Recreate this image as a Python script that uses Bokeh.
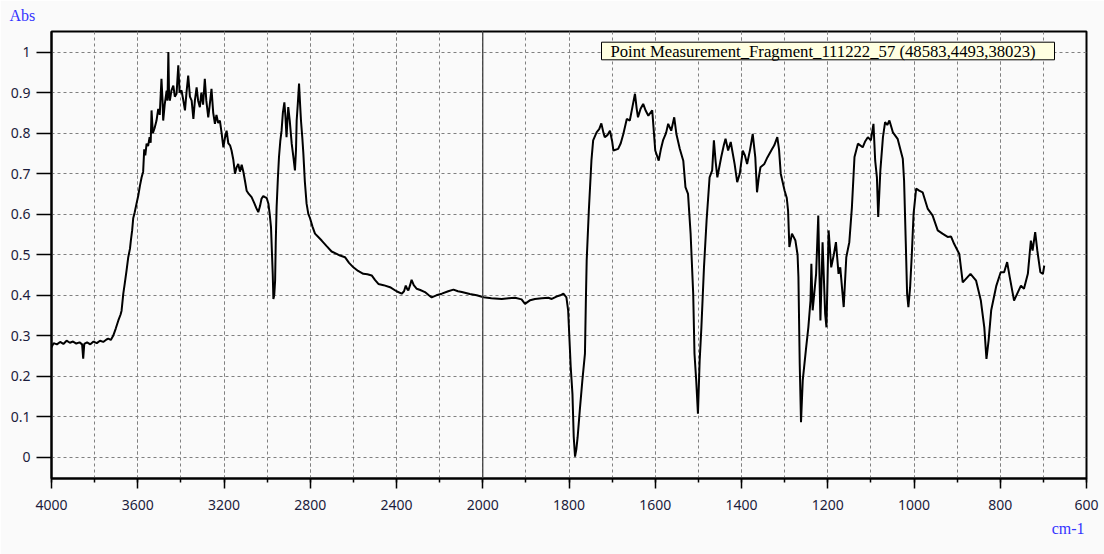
import numpy as np
from bokeh.plotting import figure
from bokeh.models import (Range1d, SingleIntervalTicker, FixedTicker, CustomJSTickFormatter,
                          Span, Label, BoxAnnotation, Title)
from bokeh.embed import file_html
from bokeh.resources import INLINE

# ---------------- data ----------------
wavenumber = [
    4000, 3990, 3975, 3960, 3945, 3930, 3915, 3900, 3885, 3870, 3858, 3853, 3848, 3835, 3820, 3805,
    3790, 3775, 3760, 3745, 3737, 3725, 3714, 3702, 3690, 3680, 3675, 3667, 3660, 3652, 3644, 3636,
    3632, 3626, 3621, 3614, 3605, 3598, 3590, 3582, 3575, 3570, 3565, 3559, 3552, 3545, 3540, 3536,
    3530, 3522, 3513, 3505, 3498, 3490, 3485, 3482, 3475, 3466, 3462, 3458, 3455, 3451, 3444, 3435,
    3428, 3420, 3412, 3406, 3397, 3390, 3381, 3374, 3366, 3358, 3350, 3342, 3335, 3327, 3320, 3312,
    3305, 3297, 3289, 3282, 3273, 3266, 3258, 3250, 3242, 3235, 3227, 3219, 3211, 3203, 3195, 3188,
    3180, 3172, 3165, 3157, 3149, 3142, 3134, 3126, 3118, 3110, 3102, 3095, 3085, 3072, 3060, 3050,
    3041, 3033, 3026, 3018, 3010, 3002, 2994, 2988, 2982, 2978, 2974, 2971, 2967, 2963, 2960, 2956,
    2950, 2945, 2939, 2933, 2927, 2920, 2915, 2910, 2906, 2902, 2895, 2886, 2878, 2871, 2866, 2863,
    2858, 2852, 2847, 2843, 2837, 2832, 2825, 2817, 2809, 2801, 2790, 2778, 2765, 2747, 2725, 2701,
    2680, 2662, 2639, 2620, 2600, 2578, 2554, 2535, 2515, 2500, 2484, 2460, 2430, 2400, 2376, 2365,
    2357, 2350, 2345, 2337, 2330, 2320, 2306, 2290, 2268, 2250, 2237, 2215, 2190, 2160, 2136, 2115,
    2097, 2060, 2028, 1998, 1980, 1956, 1940, 1925, 1910, 1902, 1890, 1879, 1863, 1848, 1840, 1829,
    1820, 1813, 1806, 1802, 1796, 1792, 1789, 1786, 1783, 1780, 1775, 1769, 1763, 1761, 1759, 1754,
    1748, 1744, 1736, 1730, 1725, 1720, 1717, 1711, 1705, 1700, 1697, 1686, 1680, 1674, 1666, 1659,
    1653, 1647, 1643, 1640, 1634, 1628, 1622, 1616, 1607, 1600, 1592, 1587, 1582, 1575, 1570, 1563,
    1556, 1551, 1543, 1535, 1530, 1524, 1518, 1512, 1509, 1505, 1501, 1497, 1493, 1487, 1481, 1474,
    1468, 1464, 1460, 1456, 1447, 1441, 1437, 1431, 1425, 1416, 1410, 1404, 1397, 1392, 1387, 1380,
    1374, 1368, 1364, 1360, 1356, 1347, 1340, 1331, 1324, 1317, 1313, 1309, 1300, 1295, 1292, 1289,
    1283, 1275, 1270, 1268, 1265, 1262, 1258, 1250, 1245, 1240, 1238, 1235, 1227, 1222, 1217, 1212,
    1206, 1203, 1198, 1192, 1186, 1181, 1175, 1171, 1163, 1157, 1150, 1144, 1138, 1130, 1119, 1113,
    1107, 1100, 1094, 1090, 1086, 1083, 1078, 1072, 1067, 1062, 1057, 1049, 1038, 1026, 1023, 1019,
    1016, 1013, 1009, 1005, 1001, 995, 988, 980, 968, 957, 945, 934, 922, 914, 907, 895,
    887, 869, 856, 845, 837, 832, 827, 821, 809, 799, 791, 784, 778, 768, 759, 752,
    745, 736, 729, 725, 719, 714, 707, 701, 698,
]
absorbance = [
    0.272, 0.282, 0.279, 0.285, 0.280, 0.288, 0.283, 0.286, 0.281, 0.284, 0.279, 0.244, 0.280, 0.284, 0.279, 0.286,
    0.282, 0.288, 0.285, 0.291, 0.293, 0.290, 0.300, 0.318, 0.338, 0.352, 0.362, 0.404, 0.430, 0.461, 0.494, 0.515,
    0.535, 0.560, 0.590, 0.605, 0.628, 0.645, 0.670, 0.691, 0.705, 0.760, 0.745, 0.774, 0.768, 0.790, 0.776, 0.856,
    0.800, 0.812, 0.831, 0.860, 0.845, 0.934, 0.880, 0.831, 0.870, 0.905, 0.880, 1.000, 0.900, 0.880, 0.905, 0.917,
    0.890, 0.897, 0.967, 0.900, 0.905, 0.885, 0.856, 0.900, 0.942, 0.890, 0.880, 0.835, 0.880, 0.913, 0.880, 0.864,
    0.900, 0.870, 0.934, 0.880, 0.839, 0.870, 0.909, 0.850, 0.823, 0.845, 0.825, 0.831, 0.800, 0.765, 0.790, 0.806,
    0.775, 0.770, 0.757, 0.735, 0.700, 0.715, 0.724, 0.705, 0.722, 0.704, 0.680, 0.658, 0.650, 0.642, 0.628, 0.615,
    0.605, 0.620, 0.638, 0.645, 0.642, 0.640, 0.626, 0.600, 0.568, 0.510, 0.453, 0.391, 0.400, 0.436, 0.530, 0.617,
    0.690, 0.741, 0.780, 0.806, 0.850, 0.876, 0.840, 0.790, 0.830, 0.864, 0.830, 0.774, 0.740, 0.708, 0.760, 0.831,
    0.870, 0.922, 0.870, 0.831, 0.790, 0.750, 0.680, 0.626, 0.601, 0.590, 0.570, 0.552, 0.545, 0.535, 0.522, 0.508,
    0.503, 0.498, 0.494, 0.480, 0.469, 0.460, 0.453, 0.452, 0.449, 0.438, 0.428, 0.425, 0.420, 0.410, 0.404, 0.410,
    0.424, 0.415, 0.412, 0.425, 0.438, 0.425, 0.416, 0.413, 0.408, 0.400, 0.395, 0.400, 0.404, 0.410, 0.414, 0.410,
    0.408, 0.403, 0.400, 0.395, 0.393, 0.391, 0.393, 0.394, 0.390, 0.379, 0.388, 0.391, 0.393, 0.394, 0.391, 0.397,
    0.400, 0.404, 0.395, 0.363, 0.223, 0.157, 0.050, 0.002, 0.020, 0.050, 0.116, 0.190, 0.256, 0.380, 0.486, 0.609,
    0.732, 0.782, 0.802, 0.810, 0.824, 0.800, 0.790, 0.795, 0.806, 0.780, 0.757, 0.761, 0.775, 0.798, 0.835, 0.831,
    0.864, 0.897, 0.860, 0.839, 0.860, 0.872, 0.855, 0.843, 0.856, 0.757, 0.732, 0.760, 0.782, 0.800, 0.823, 0.806,
    0.839, 0.798, 0.761, 0.732, 0.667, 0.650, 0.552, 0.404, 0.256, 0.190, 0.108, 0.239, 0.321, 0.469, 0.584, 0.691,
    0.708, 0.782, 0.730, 0.691, 0.741, 0.770, 0.786, 0.757, 0.778, 0.724, 0.679, 0.700, 0.757, 0.745, 0.724, 0.760,
    0.798, 0.740, 0.654, 0.690, 0.716, 0.724, 0.740, 0.757, 0.770, 0.790, 0.760, 0.700, 0.658, 0.640, 0.609, 0.519,
    0.552, 0.535, 0.500, 0.445, 0.231, 0.087, 0.190, 0.272, 0.321, 0.387, 0.478, 0.363, 0.453, 0.597, 0.338, 0.531,
    0.354, 0.321, 0.560, 0.469, 0.500, 0.531, 0.453, 0.469, 0.371, 0.494, 0.531, 0.617, 0.741, 0.774, 0.765, 0.780,
    0.790, 0.782, 0.823, 0.732, 0.691, 0.593, 0.708, 0.790, 0.827, 0.820, 0.831, 0.802, 0.786, 0.737, 0.683, 0.527,
    0.404, 0.371, 0.420, 0.502, 0.601, 0.663, 0.658, 0.654, 0.613, 0.597, 0.560, 0.552, 0.544, 0.545, 0.527, 0.502,
    0.432, 0.453, 0.436, 0.387, 0.321, 0.243, 0.289, 0.363, 0.424, 0.457, 0.457, 0.482, 0.445, 0.387, 0.408, 0.424,
    0.416, 0.453, 0.535, 0.510, 0.556, 0.510, 0.457, 0.453, 0.473,
]
x_tick_labels = [4000, 3600, 3200, 2800, 2400, 2000, 1800, 1600, 1400, 1200, 1000, 800, 600]
y_ticks = [0.0, 0.1, 0.2, 0.3, 0.4, 0.5, 0.6, 0.7, 0.8, 0.9, 1.0]
legend_text = "Point Measurement_Fragment_111222_57 (48583,4493,38023)"
x_unit = "cm-1"
y_unit = "Abs"
x_break = 2000  # below this wavenumber the axis is expanded 2x


def to_u(wn):
    """Map wavenumber onto the instrument's axis (2x expansion below 2000 cm-1)."""
    wn = np.asarray(wn, dtype=float)
    return np.where(wn >= x_break, 4000 - wn, x_break + 2 * (x_break - wn))


# ---------------- layout ----------------
W, H = 1104, 554
FL, FR, FT, FB = 51, 1086, 31, 478          # frame edges in figure pixels
Y0, Y1 = -0.0518, 1.0506
U0, U1 = float(to_u(max(x_tick_labels))), float(to_u(min(x_tick_labels)))


def px_u(fx):
    return U0 + (fx - FL) / (FR - FL) * (U1 - U0)


def py_y(fy):
    return Y1 - (fy - FT) / (FB - FT) * (Y1 - Y0)


BG = "#fafafa"
BLUE = "#3333ff"
p = figure(width=W, height=H, x_range=Range1d(U0, U1), y_range=Range1d(Y0, Y1),
           output_backend="svg", toolbar_location=None,
           min_border_left=FL, min_border_right=W - FR, min_border_top=FT, min_border_bottom=H - FB)
p.background_fill_color = BG
p.border_fill_color = BG
p.outline_line_color = "black"
p.outline_line_width = 2
p.outline_line_alpha = 1

# x axis
p.xaxis.ticker = SingleIntervalTicker(interval=400, num_minor_ticks=2)
p.xaxis.formatter = CustomJSTickFormatter(code="""
    const w = tick <= 2000 ? 4000 - tick : 2000 - (tick - 2000) / 2;
    return Math.round(w).toString();
""")
p.xaxis.major_tick_out = 10
p.xaxis.major_tick_in = 0
p.xaxis.minor_tick_out = 4
p.xaxis.minor_tick_in = 0
p.xaxis.major_tick_line_width = 1.5
p.xaxis.minor_tick_line_width = 1.5
p.xaxis.axis_line_width = 2
p.xaxis.major_label_standoff = 11

# y axis
p.yaxis.ticker = FixedTicker(ticks=y_ticks)
p.yaxis.formatter = CustomJSTickFormatter(code="""
    return tick.toFixed(1).replace(/\\.0$/, '');
""")
p.yaxis.major_tick_out = 15
p.yaxis.major_tick_in = 0
p.yaxis.minor_tick_line_color = None
p.yaxis.major_tick_line_width = 1.5
p.yaxis.axis_line_width = 2
p.yaxis.major_label_standoff = 6

for ax in (p.xaxis, p.yaxis):
    ax.axis_line_color = "black"
    ax.major_tick_line_color = "black"
    ax.major_label_text_font = "Noto Sans"
    ax.major_label_text_font_size = "14px"
    ax.major_label_text_color = "#1c1c3c"
p.xaxis.minor_tick_line_color = "black"

# grid
p.xgrid.grid_line_color = "#808080"
p.xgrid.grid_line_dash = "3 3"
p.xgrid.minor_grid_line_color = "#808080"
p.xgrid.minor_grid_line_dash = "3 3"
p.ygrid.grid_line_color = "#808080"
p.ygrid.grid_line_dash = "3 3"

# break marker at 2000 cm-1
p.add_layout(Span(location=float(to_u(x_break)), dimension="height",
                  line_color="#404040", line_width=1.3))

# spectrum
p.line(to_u(wavenumber), absorbance, line_color="black", line_width=2)

# legend box
p.add_layout(BoxAnnotation(left=px_u(601), right=px_u(1054), top=py_y(41.7), bottom=py_y(59.3),
                           fill_color="#ffffe1", fill_alpha=1, line_color="black", line_width=1,
                           line_alpha=1))
p.add_layout(Label(x=px_u(610), y=py_y(50.5), text=legend_text, text_baseline="middle",
                   text_align="left", text_font="Liberation Serif", text_font_size="16.7px",
                   text_color="black"))

# unit labels (outside the frame)
p.add_layout(Title(text=y_unit, align="left", offset=9 - FL, standoff=12, vertical_align="top",
                   text_font="Liberation Serif", text_font_size="16px",
                   text_font_style="normal", text_color=BLUE), "above")
p.add_layout(Title(text=x_unit, align="right", offset=2, standoff=15, vertical_align="top",
                   text_font="Liberation Serif", text_font_size="16px",
                   text_font_style="normal", text_color=BLUE), "below")

html = file_html(p, INLINE)
html = html.replace("<body>", '<body style="background-color:%s;">' % BG, 1)
open("out.html", "w").write(html)
